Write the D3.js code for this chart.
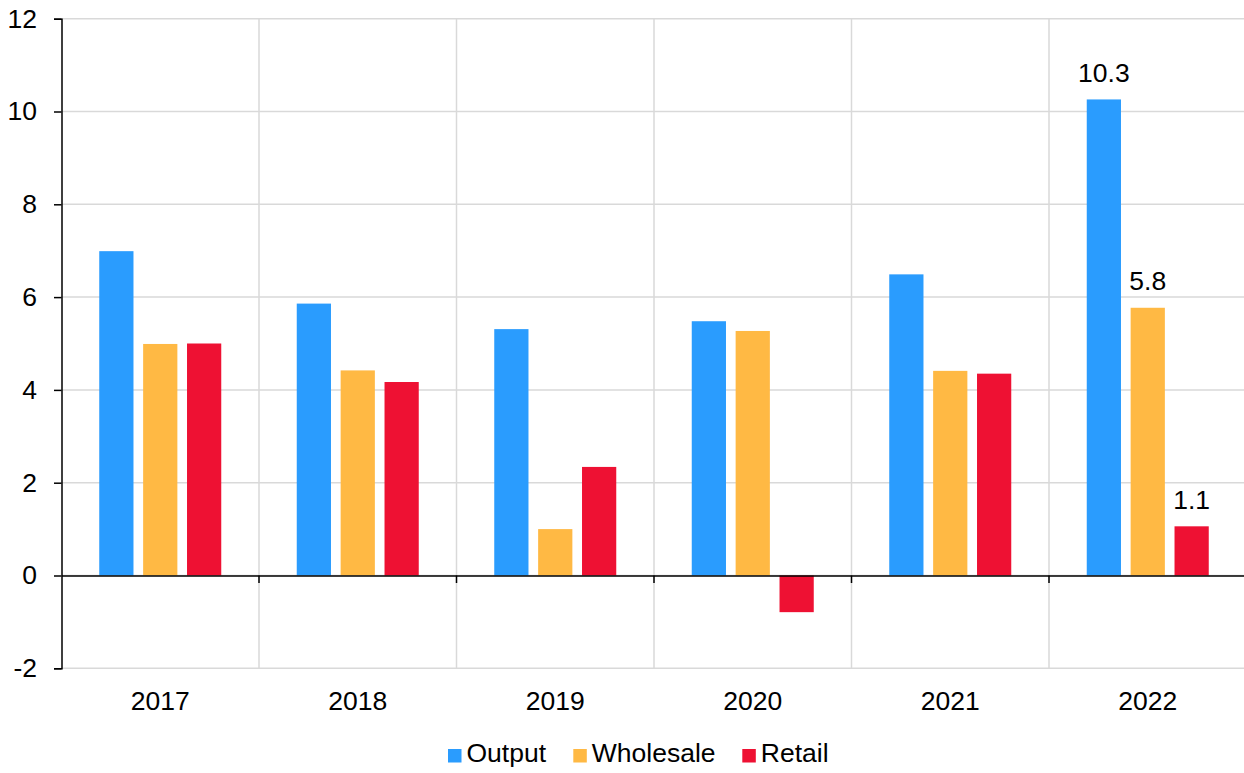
<!DOCTYPE html>
<html>
<head>
<meta charset="utf-8">
<script src="https://cdn.jsdelivr.net/npm/d3@7"></script>
<style>
  html, body { margin: 0; padding: 0; background: #fff; }
  svg { display: block; font-family: "Liberation Sans", Arial, sans-serif; }
</style>
</head>
<body>
<svg id="chart" width="1244" height="773"></svg>
<script>
// Annual growth by price series, per cent
const years = ["2017", "2018", "2019", "2020", "2021", "2022"];
const seriesNames = ["Output", "Wholesale", "Retail"];
const output    = [6.99, 5.86, 5.31, 5.48, 6.49, 10.26];
const wholesale = [4.99, 4.42, 1.0, 5.27, 4.41, 5.77];
const retail    = [5.0, 4.17, 2.34, -0.79, 4.35, 1.06];
const yTicks = [-2, 0, 2, 4, 6, 8, 10, 12];
const labelledYear = "2022";

const colors = { Output: "#2a9cfe", Wholesale: "#ffb944", Retail: "#ee1133" };
const valuesBySeries = { Output: output, Wholesale: wholesale, Retail: retail };

const svg = d3.select("#chart");
const plotLeft = 61.5, plotRight = 1246.5, plotTop = 18.7, plotBottom = 668.3;
const fontSize = 26.5;

const x = d3.scaleBand().domain(years).range([plotLeft, plotRight]).paddingInner(0).paddingOuter(0);
const y = d3.scaleLinear().domain([-2, 12]).range([plotBottom, plotTop]);
const xs = d3.scaleBand().domain(seriesNames)
  .range([x.bandwidth() / 2 - 61, x.bandwidth() / 2 + 61]).paddingInner(0.22).paddingOuter(0);

// Horizontal gridlines
svg.append("g").selectAll("line").data(yTicks).join("line")
  .attr("x1", plotLeft).attr("x2", plotRight)
  .attr("y1", d => y(d)).attr("y2", d => y(d))
  .attr("stroke", "#d9d9d9").attr("stroke-width", 1.5);

// Vertical gridlines at category boundaries
svg.append("g").selectAll("line").data(years.slice(1)).join("line")
  .attr("x1", d => x(d)).attr("x2", d => x(d))
  .attr("y1", plotTop).attr("y2", plotBottom)
  .attr("stroke", "#d9d9d9").attr("stroke-width", 1.5);

// Bars
const rows = years.map((yr, i) => ({ year: yr, values: seriesNames.map(s => ({ series: s, value: valuesBySeries[s][i] })) }));
const groups = svg.append("g").selectAll("g").data(rows).join("g")
  .attr("transform", d => `translate(${x(d.year)},0)`);
groups.selectAll("rect").data(d => d.values).join("rect")
  .attr("x", d => xs(d.series))
  .attr("width", xs.bandwidth())
  .attr("y", d => y(Math.max(0, d.value)))
  .attr("height", d => Math.abs(y(d.value) - y(0)))
  .attr("fill", d => colors[d.series]);

// Value labels for the latest year
const fmt = d3.format(".1f");
groups.filter(d => d.year === labelledYear).selectAll("text").data(d => d.values).join("text")
  .attr("x", d => xs(d.series) + xs.bandwidth() / 2)
  .attr("y", d => y(Math.max(0, d.value)) - 17.5)
  .attr("text-anchor", "middle")
  .attr("font-size", fontSize)
  .attr("fill", "#000")
  .text(d => fmt(d.value));

// Y axis
const yAxis = svg.append("g").attr("transform", `translate(${plotLeft},0)`)
  .call(d3.axisLeft(y).tickValues(yTicks).tickSize(7.5).tickPadding(17).tickFormat(d => String(d)));
yAxis.select(".domain").attr("stroke", "#000").attr("stroke-width", 1.5);
yAxis.selectAll(".tick line").attr("stroke", "#000").attr("stroke-width", 1.5);
yAxis.selectAll(".tick text").attr("font-size", fontSize).attr("fill", "#000")
  .attr("font-family", "Liberation Sans, Arial, sans-serif");

// Zero line with category ticks
const xAxis = svg.append("g").attr("transform", `translate(0,${y(0)})`)
  .call(d3.axisBottom(x).tickSize(0).tickFormat(""));
xAxis.select(".domain").attr("stroke", "#000").attr("stroke-width", 1.5);
svg.append("g").selectAll("line").data(years.slice(1)).join("line")
  .attr("x1", d => x(d)).attr("x2", d => x(d))
  .attr("y1", y(0)).attr("y2", y(0) + 7.5)
  .attr("stroke", "#000").attr("stroke-width", 1.5);

// Category labels below the plot
svg.append("g").selectAll("text").data(years).join("text")
  .attr("x", d => x(d) + x.bandwidth() / 2)
  .attr("y", 710)
  .attr("text-anchor", "middle")
  .attr("font-size", fontSize)
  .attr("fill", "#000")
  .text(d => d);

// Legend
const legendX = [448, 573.3, 742.3];
const legend = svg.append("g").selectAll("g").data(seriesNames).join("g")
  .attr("transform", (d, i) => `translate(${legendX[i]},749)`);
legend.append("rect").attr("width", 13.5).attr("height", 13.5).attr("fill", d => colors[d]);
legend.append("text").attr("x", 18.5).attr("y", 13.3)
  .attr("font-size", fontSize).attr("fill", "#000").text(d => d);
</script>
</body>
</html>
